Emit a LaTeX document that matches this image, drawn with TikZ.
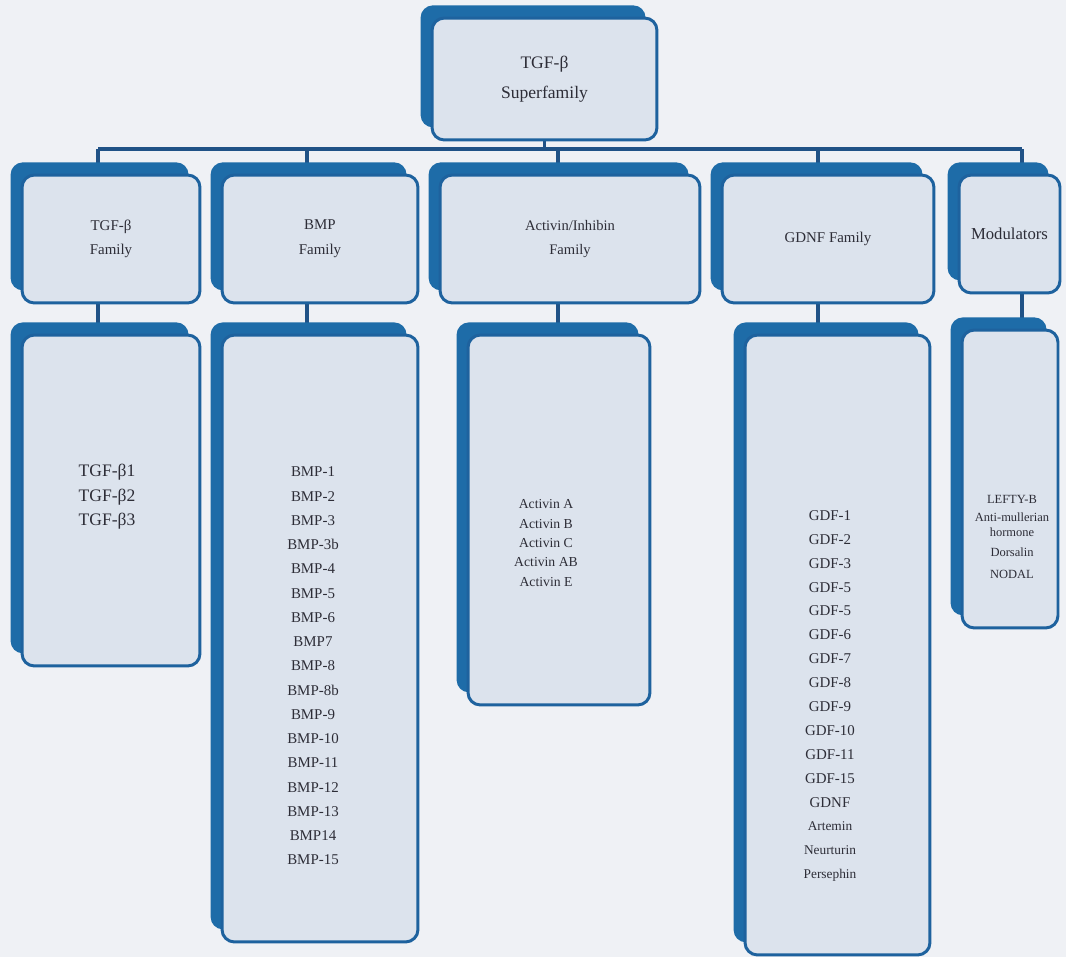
\documentclass[tikz,border=0pt]{standalone}
\usepackage{fontspec}
\setmainfont{Liberation Serif}
\usetikzlibrary{shadows,backgrounds}

\definecolor{pagebg}{RGB}{239,241,245}
\definecolor{boxfill}{RGB}{220,227,237}
\definecolor{boxblue}{RGB}{30,108,168}
\definecolor{boxline}{RGB}{30,98,158}
\definecolor{busline}{RGB}{32,82,134}
\definecolor{itemtext}{RGB}{45,45,55}

\tikzset{
  famblock/.style={draw=boxline, line width=1.7pt, fill=boxfill, rounded corners=7pt,
    inner sep=0pt, align=center, text=itemtext,
    general shadow={fill=boxblue, shadow xshift=-6.5pt, shadow yshift=7.2pt}},
  listtext/.style={align=center, inner sep=0pt, text=itemtext},
  conn/.style={draw=busline, line width=2pt},
}

\begin{document}
\begin{tikzpicture}[x=0.02cm, y=-0.02cm]
	\useasboundingbox (0,0) rectangle (1066,957);
	% superfamily
	\node[famblock, minimum width=4.5cm, minimum height=2.44cm, font=\fontsize{10}{17}\selectfont] (super) at (544.5,79) {TGF-β\\Superfamily};
	% families
	\node[famblock, minimum width=3.56cm, minimum height=2.56cm, font=\fontsize{8.5}{14}\selectfont] (tgfFam) at (111,239) {TGF-β\\Family};
	\node[famblock, minimum width=3.92cm, minimum height=2.56cm, font=\fontsize{8.5}{14}\selectfont] (bmpFam) at (320,239) {BMP\\Family};
	\node[famblock, minimum width=5.2cm, minimum height=2.56cm, font=\fontsize{8.3}{14}\selectfont] (actFam) at (570,239) {Activin/Inhibin\\Family};
	\node[famblock, minimum width=4.24cm, minimum height=2.56cm, font=\fontsize{8.5}{14}\selectfont] (gdnfFam) at (828,239) {GDNF Family};
	\node[famblock, minimum width=2.02cm, minimum height=2.36cm, font=\fontsize{9.5}{14}\selectfont] (modFam) at (1009.5,234) {Modulators};
	% members
	\node[famblock, minimum width=3.56cm, minimum height=6.62cm] (tgfList) at (111,500.5) {};
	\node[famblock, minimum width=3.92cm, minimum height=12.14cm] (bmpList) at (320,638.5) {};
	\node[famblock, minimum width=3.64cm, minimum height=7.4cm] (actList) at (559,520) {};
	\node[famblock, minimum width=3.7cm, minimum height=12.4cm] (gdnfList) at (837.5,645) {};
	\node[famblock, minimum width=1.92cm, minimum height=5.96cm] (modList) at (1010,479) {};
	\node[listtext, font=\fontsize{10}{13.9}\selectfont] (tgfItems) at (107,497) {TGF-β1\\TGF-β2\\TGF-β3};
	\node[listtext, font=\fontsize{8.5}{13.8}\selectfont] (bmpItems) at (313,666) {BMP-1\\BMP-2\\BMP-3\\BMP-3b\\BMP-4\\BMP-5\\BMP-6\\BMP7\\BMP-8\\BMP-8b\\BMP-9\\BMP-10\\BMP-11\\BMP-12\\BMP-13\\BMP14\\BMP-15};
	\node[listtext, font=\fontsize{7.8}{11}\selectfont] (actItems) at (546,543) {Activin A\\Activin B\\Activin C\\Activin AB\\Activin E};
	\node[listtext, font=\fontsize{8.5}{13.6}\selectfont] (gdnfItems) at (830,696) {GDF-1\\GDF-2\\GDF-3\\GDF-5\\GDF-5\\GDF-6\\GDF-7\\GDF-8\\GDF-9\\GDF-10\\GDF-11\\GDF-15\\GDNF\\{\fontsize{7.6}{13.6}\selectfont Artemin}\\{\fontsize{7.6}{13.6}\selectfont Neurturin}\\{\fontsize{7.6}{13.6}\selectfont Persephin}};
	\node[listtext, font=\fontsize{7.1}{8.5}\selectfont] (modItems) at (1012,537) {LEFTY-B\\[1.7pt]Anti-mullerian\\hormone\\[2.8pt]Dorsalin\\[4pt]NODAL};
	% page and connectors
	\begin{scope}[on background layer]
		\fill[pagebg] (0,0) rectangle (1066,957);
		\coordinate (busL) at (98,149);
		\coordinate (busR) at (1022,149);
		\draw[conn] (super.south) -- (super.south |- busL);
		\draw[conn] (busL) -- (busR);
		\foreach \n/\x in {tgf/98,bmp/307,act/558,gdnf/818,mod/1022} {
			\coordinate (\n Tap) at (\x,149);
			\draw[conn] (\n Tap) -- (\n Tap |- \n Fam.north);
			\draw[conn] (\n Tap |- \n Fam.south) -- (\n Tap |- \n List.north);
		}
	\end{scope}
\end{tikzpicture}
\end{document}
